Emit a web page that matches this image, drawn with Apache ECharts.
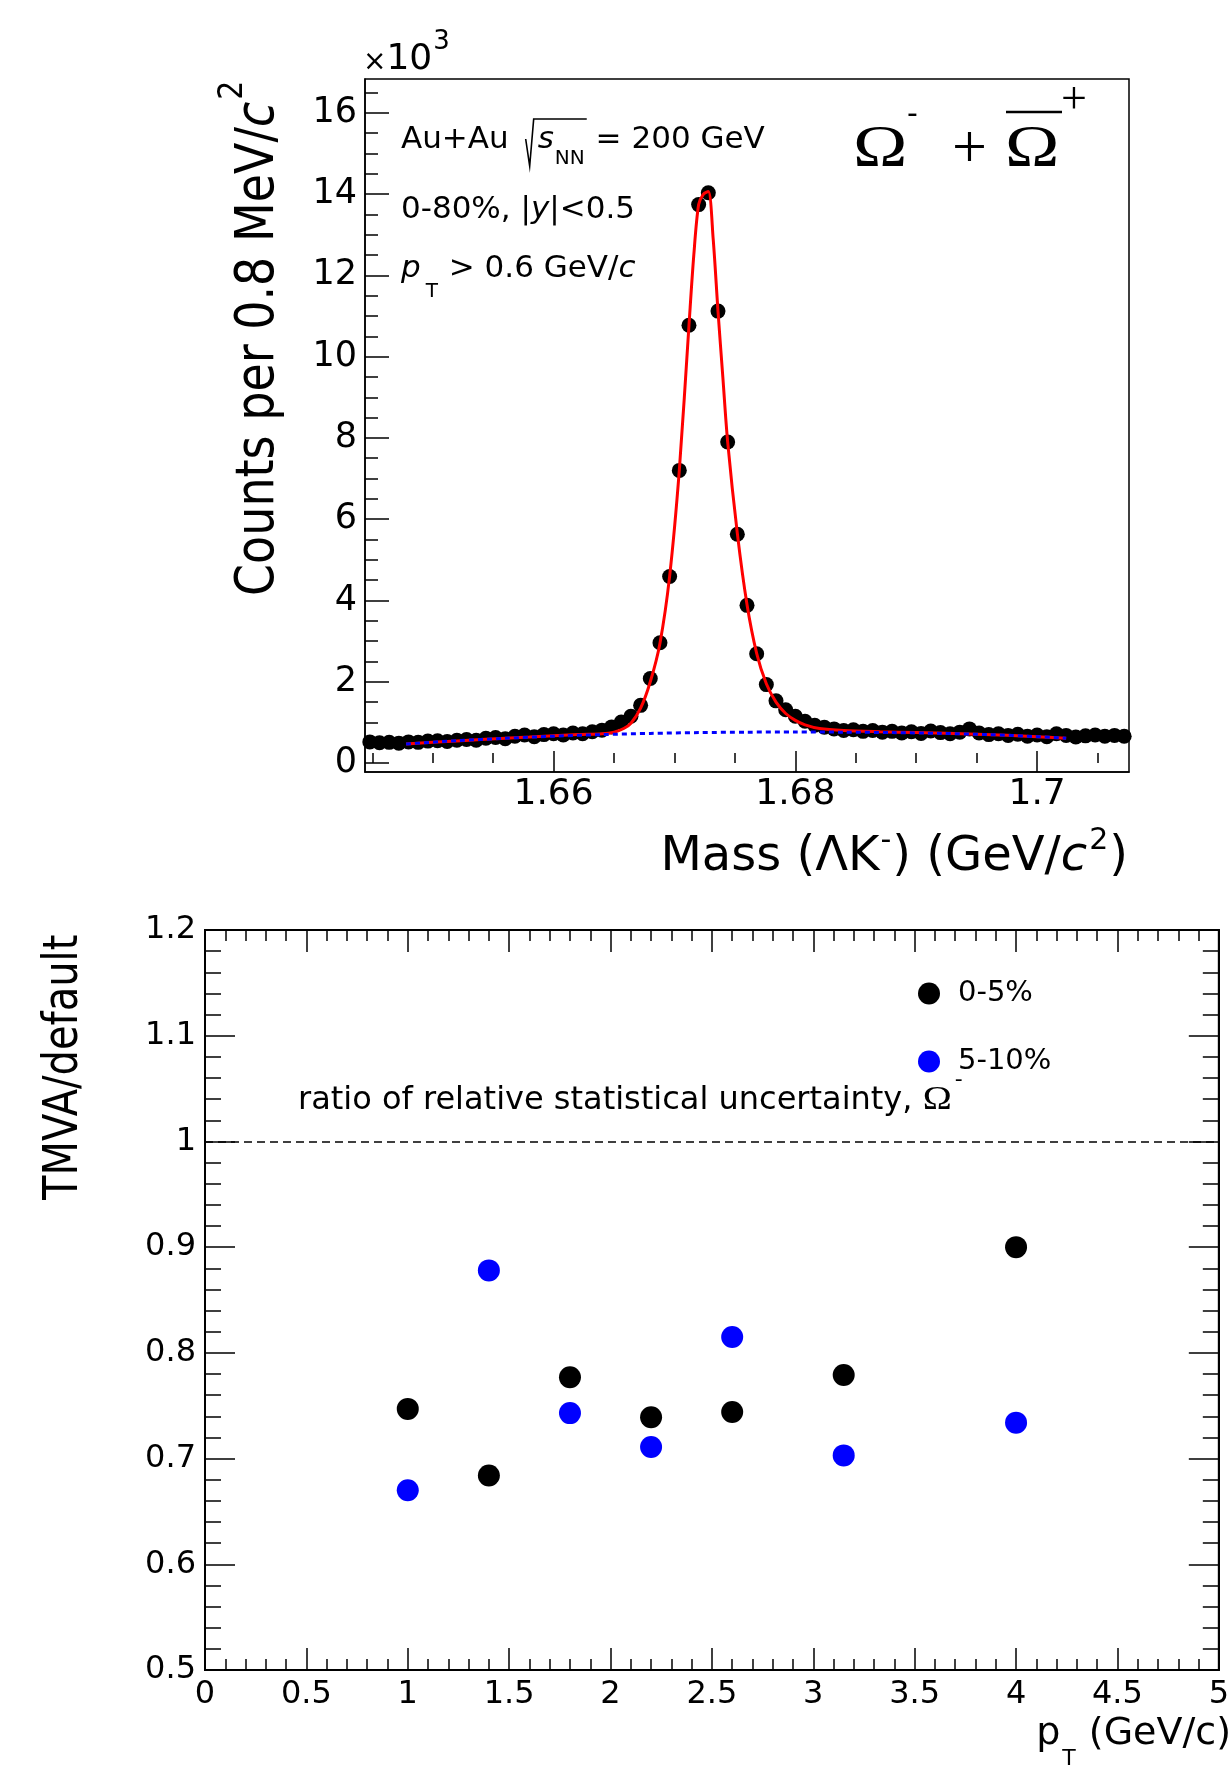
<!DOCTYPE html>
<html><head><meta charset="utf-8">
<script src="https://cdn.jsdelivr.net/npm/echarts@6/dist/echarts.min.js"></script>
<style>html,body{margin:0;padding:0;background:#fff}#c{width:1232px;height:1769px}</style>
</head><body><div id="c"></div>
<script>
// ===== Top panel: invariant mass distribution (counts in units of 10^3) =====
const massCenters = [
  1.6448,1.6456,1.6464,1.6472,1.6480,1.6488,1.6496,1.6504,1.6512,1.6520,
  1.6528,1.6536,1.6544,1.6552,1.6560,1.6568,1.6576,1.6584,1.6592,1.6600,
  1.6608,1.6616,1.6624,1.6632,1.6640,1.6648,1.6656,1.6664,1.6672,1.6680,
  1.6688,1.6696,1.6704,1.6712,1.6720,1.6728,1.6736,1.6744,1.6752,1.6760,
  1.6768,1.6776,1.6784,1.6792,1.6800,1.6808,1.6816,1.6824,1.6832,1.6840,
  1.6848,1.6856,1.6864,1.6872,1.6880,1.6888,1.6896,1.6904,1.6912,1.6920,
  1.6928,1.6936,1.6944,1.6952,1.6960,1.6968,1.6976,1.6984,1.6992,1.7000,
  1.7008,1.7016,1.7024,1.7032,1.7040,1.7048,1.7056,1.7064,1.7072];
const massCounts = [
  0.52,0.50,0.51,0.49,0.52,0.51,0.54,0.55,0.53,0.56,
  0.58,0.56,0.61,0.63,0.60,0.66,0.69,0.65,0.70,0.72,
  0.69,0.74,0.72,0.77,0.81,0.89,1.01,
  1.15,1.42,2.08,2.96,4.59,7.20,10.77,13.74,14.03,11.12,7.90,5.63,3.88,2.69,1.93,1.53,1.31,1.15,1.03,
  0.93,0.88,0.84,0.80,0.82,0.78,0.80,0.76,0.78,0.74,0.77,0.73,0.79,0.75,0.72,0.76,0.84,0.74,0.70,0.72,
  0.68,0.71,0.66,0.69,0.65,0.72,0.68,0.64,0.67,0.69,0.66,0.68,0.66];
const fitMass = [1.6478,1.6500,1.6540,1.6580,1.6620,1.6640,1.6650,1.6658,1.6664,1.6672,1.6680,1.6688,1.6696,1.6704,
  1.6712,1.6716,1.6720,1.6724,1.6728,1.6732,1.6736,1.6740,1.6744,1.6752,1.6760,1.6768,1.6776,1.6784,1.6792,1.6800,
  1.6808,1.6820,1.6840,1.6870,1.6900,1.6950,1.7000,1.7024];
const fitCounts = [0.47,0.51,0.58,0.64,0.70,0.72,0.76,0.85,0.98,1.35,2.00,2.95,4.60,7.20,
  10.77,12.50,13.74,14.00,14.06,12.90,11.12,9.50,7.90,5.65,3.90,2.70,1.95,1.50,1.22,1.05,
  0.94,0.85,0.80,0.77,0.75,0.71,0.65,0.61];
const bkgMass = [1.6478,1.6520,1.6560,1.6600,1.6640,1.6680,1.6720,1.6760,1.6800,1.6840,1.6880,1.6920,1.6960,1.7000,1.7024];
const bkgCounts = [0.47,0.55,0.61,0.66,0.70,0.73,0.75,0.76,0.765,0.76,0.75,0.73,0.70,0.65,0.61];
const countTicks = [0,2,4,6,8,10,12,14,16];
const countMinorTicks = [0.5,1,1.5,2.5,3,3.5,4.5,5,5.5,6.5,7,7.5,8.5,9,9.5,10.5,11,11.5,12.5,13,13.5,14.5,15,15.5,16.5];
const massTicks = [1.66,1.68,1.70];
const massTickLabels = ['1.66','1.68','1.7'];
const massMinorTicks = [1.645,1.650,1.655,1.665,1.670,1.675,1.685,1.690,1.695,1.705];

// ===== Bottom panel: TMVA/default ratio vs pT =====
const ptValues = [1.0,1.4,1.8,2.2,2.6,3.15,4.0];
const ratio0to5 = [0.747,0.684,0.777,0.739,0.744,0.779,0.900];
const ratio5to10 = [0.670,0.878,0.743,0.711,0.815,0.703,0.734];
const centralityLabels = ['0-5%','5-10%'];

const F = '"DejaVu Sans"';
const SERIF = '"Liberation Serif"';
const cv = document.createElement('canvas').getContext('2d');
function fontOf(p){ return (p.italic?'italic ':'') + p.size + 'px ' + (p.serif?SERIF:F); }
function runWidth(parts){ let w=0; for(const p of parts){ cv.font=fontOf(p); w += (p.pre||0) + cv.measureText(p.t).width*(p.sx||1); } return w; }
function textEls(x0, base, parts){
  const els=[]; const pos=[]; let x=x0;
  for(const p of parts){
    x += p.pre||0;
    const font = fontOf(p); cv.font = font;
    const w = cv.measureText(p.t).width*(p.sx||1);
    const k = p.serif?0.34:0.346;
    els.push({type:'text', x:x, y: base+(p.dy||0)-k*p.size, z:100, scaleX:(p.sx||1),
      style:{text:p.t, font:font, fill:'#000', align:'left', textAlign:'left', verticalAlign:'middle', textVerticalAlign:'middle'}});
    pos.push([x, x+w]);
    x += w;
  }
  return {els, pos, end:x};
}

const G = [];
// x10^3
G.push(...textEls(363, 72, [{t:'×',size:28},{t:'10',size:36},{t:'3',size:26,dy:-21,pre:1}]).els);
// Au+Au sqrt(sNN) = 200 GeV
const a1 = textEls(401, 150.7, [{t:'Au+Au',size:31}]);
G.push(...a1.els);
const rx = a1.end + 17;
const a2 = textEls(rx + 12, 150.7, [{t:'s',size:31,italic:true},{t:'NN',size:20,dy:15,pre:1},{t:' = 200 GeV',size:31,pre:1}]);
G.push(...a2.els);
G.push({type:'polyline', z:100, shape:{points:[[rx,139],[rx+4,166],[rx+8,119],[a2.pos[1][1]+2,119]]}, style:{stroke:'#000', lineWidth:1.6, fill:null}});
G.push(...textEls(401, 220.7, [{t:'0-80%, |',size:31},{t:'y',size:31,italic:true},{t:'|<0.5',size:31}]).els);
G.push(...textEls(401, 280, [{t:'p',size:31,italic:true},{t:'T',size:20,dy:19,pre:5},{t:' > 0.6 GeV/',size:31,pre:1},{t:'c',size:31,italic:true}]).els);
// Omega^- + anti-Omega^+
G.push(...textEls(853, 171, [{t:'Ω',size:60,serif:true,sx:1.22}]).els);
G.push(...textEls(907, 126, [{t:'-',size:30}]).els);
G.push(...textEls(952, 172, [{t:'+',size:62,serif:true}]).els);
G.push(...textEls(1005, 171, [{t:'Ω',size:60,serif:true,sx:1.22}]).els);
G.push({type:'line', z:100, shape:{x1:1006,y1:112,x2:1062,y2:112}, style:{stroke:'#000', lineWidth:2.5}});
G.push(...textEls(1061, 117, [{t:'+',size:46,serif:true}]).els);
// Mass title
const massParts = [{t:'Mass (ΛK',size:48},{t:'-',size:30,dy:-22,pre:1},{t:') (GeV/',size:48,pre:1},{t:'c',size:48,italic:true},{t:'2',size:30,dy:-22,pre:2},{t:')',size:48,pre:1}];
G.push(...textEls(1128 - runWidth(massParts), 874, massParts).els);
// Counts title (rotated)
G.push({type:'group', x:278, y:596, rotation:Math.PI/2, scaleY:1.15, children: textEls(0, 0, [{t:'Counts per 0.8 MeV/',size:46},{t:'c',size:46,italic:true},{t:'2',size:30,dy:-29,pre:2}]).els});
// Bottom panel texts
G.push(...textEls(298, 1111.7, [{t:'ratio of relative statistical uncertainty, ',size:32},{t:'Ω',size:34,serif:true,sx:1.15},{t:'-',size:22,dy:-24,pre:3}]).els);
G.push({type:'group', x:81, y:1200, rotation:Math.PI/2, scaleY:1.2, children: textEls(0, 0, [{t:'TMVA/default',size:40}]).els});
const ptParts = [{t:'p',size:38},{t:'T',size:22,dy:20,pre:2},{t:' (GeV/c)',size:38,pre:1}];
G.push(...textEls(1231 - runWidth(ptParts), 1747, ptParts).els);

const LS = {color:'#000', width:1.5};
function lbl(v){ for(let i=0;i<massTicks.length;i++){ if(Math.abs(v-massTicks[i])<1e-6) return massTickLabels[i]; } return ''; }

const option = {
  animation:false,
  backgroundColor:'#fff',
  grid:[
    {left:365, top:79, width:764, height:693, show:true, borderColor:'#000', borderWidth:1.5},
    {left:205, top:930, width:1025, height:740, show:true, borderColor:'#000', borderWidth:2}
  ],
  legend:{
    orient:'vertical', left:913, top:974, itemWidth:22, itemHeight:22, itemGap:39, icon:'circle', selectedMode:false,
    data:centralityLabels, textStyle:{fontFamily:F, fontSize:29, color:'#000', padding:[0,0,0,13]}
  },
  xAxis:[
    {gridIndex:0, type:'value', position:'bottom', min:1.6444, max:1.7076,
      axisLine:{show:true, onZero:false, lineStyle:LS},
      axisTick:{show:true, inside:true, length:21, customValues:massTicks, lineStyle:LS},
      axisLabel:{show:true, customValues:massTicks, formatter:lbl, fontFamily:F, fontSize:36, color:'#000', margin:5},
      splitLine:{show:false}},
    {gridIndex:0, type:'value', position:'bottom', min:1.6444, max:1.7076,
      axisLine:{show:false}, axisTick:{show:true, inside:true, length:10, customValues:massMinorTicks, lineStyle:LS},
      axisLabel:{show:false}, splitLine:{show:false}},
    {gridIndex:1, type:'value', position:'bottom', min:0, max:5, interval:0.5,
      axisLine:{show:true, onZero:false, lineStyle:{color:'#000', width:2}},
      axisTick:{show:true, inside:true, length:22, lineStyle:LS},
      minorTick:{show:true, splitNumber:5, length:11, lineStyle:LS},
      axisLabel:{show:true, fontFamily:F, fontSize:32, color:'#000', margin:9},
      splitLine:{show:false}, minorSplitLine:{show:false}},
    {gridIndex:1, type:'value', position:'top', min:0, max:5, interval:0.5,
      axisLine:{show:true, onZero:false, lineStyle:{color:'#000', width:2}},
      axisTick:{show:true, inside:true, length:22, lineStyle:LS},
      minorTick:{show:true, splitNumber:5, length:11, lineStyle:LS},
      axisLabel:{show:false}, splitLine:{show:false}}
  ],
  yAxis:[
    {gridIndex:0, type:'value', position:'left', min:-0.22, max:16.83,
      axisLine:{show:true, onZero:false, lineStyle:LS},
      axisTick:{show:true, inside:true, length:24, customValues:countTicks, lineStyle:LS},
      axisLabel:{show:true, customValues:countTicks, fontFamily:F, fontSize:35, color:'#000', margin:8},
      splitLine:{show:false}},
    {gridIndex:0, type:'value', position:'left', min:-0.22, max:16.83,
      axisLine:{show:false}, axisTick:{show:true, inside:true, length:13, customValues:countMinorTicks, lineStyle:LS},
      axisLabel:{show:false}, splitLine:{show:false}},
    {gridIndex:1, type:'value', position:'left', min:0.5, max:1.2, interval:0.1,
      axisLine:{show:true, onZero:false, lineStyle:{color:'#000', width:2}},
      axisTick:{show:true, inside:true, length:30, lineStyle:LS},
      minorTick:{show:true, splitNumber:5, length:16, lineStyle:LS},
      axisLabel:{show:true, fontFamily:F, fontSize:32, color:'#000', margin:9},
      splitLine:{show:false}, minorSplitLine:{show:false}},
    {gridIndex:1, type:'value', position:'right', min:0.5, max:1.2, interval:0.1,
      axisLine:{show:true, onZero:false, lineStyle:{color:'#000', width:2}},
      axisTick:{show:true, inside:true, length:30, lineStyle:LS},
      minorTick:{show:true, splitNumber:5, length:16, lineStyle:LS},
      axisLabel:{show:false}, splitLine:{show:false}}
  ],
  series:[
    {type:'scatter', xAxisIndex:0, yAxisIndex:0, symbolSize:15, itemStyle:{color:'#000', opacity:1}, z:2,
      data: massCenters.map((m,i)=>[m, massCounts[i]])},
    {type:'line', xAxisIndex:0, yAxisIndex:0, showSymbol:false, smooth:0.3, z:3,
      lineStyle:{color:'#ff0000', width:3}, data: fitMass.map((m,i)=>[m, fitCounts[i]])},
    {type:'line', xAxisIndex:0, yAxisIndex:0, showSymbol:false, smooth:0.3, z:4,
      lineStyle:{color:'#0000ff', width:3, type:[5,4]}, data: bkgMass.map((m,i)=>[m, bkgCounts[i]])},
    {name:centralityLabels[0], type:'scatter', xAxisIndex:2, yAxisIndex:2, symbolSize:22, itemStyle:{color:'#000', opacity:1}, z:3,
      data: ptValues.map((p,i)=>[p, ratio0to5[i]]),
      markLine:{silent:true, symbol:'none', label:{show:false}, lineStyle:{color:'#000', width:1.5, type:[8,5]}, data:[{yAxis:1}]}},
    {name:centralityLabels[1], type:'scatter', xAxisIndex:2, yAxisIndex:2, symbolSize:22, itemStyle:{color:'#0000ff', opacity:1}, z:3,
      data: ptValues.map((p,i)=>[p, ratio5to10[i]])}
  ],
  graphic: G
};
const chart = echarts.init(document.getElementById('c'), null, {renderer:'canvas', width:1232, height:1769});
chart.setOption(option);
</script></body></html>
